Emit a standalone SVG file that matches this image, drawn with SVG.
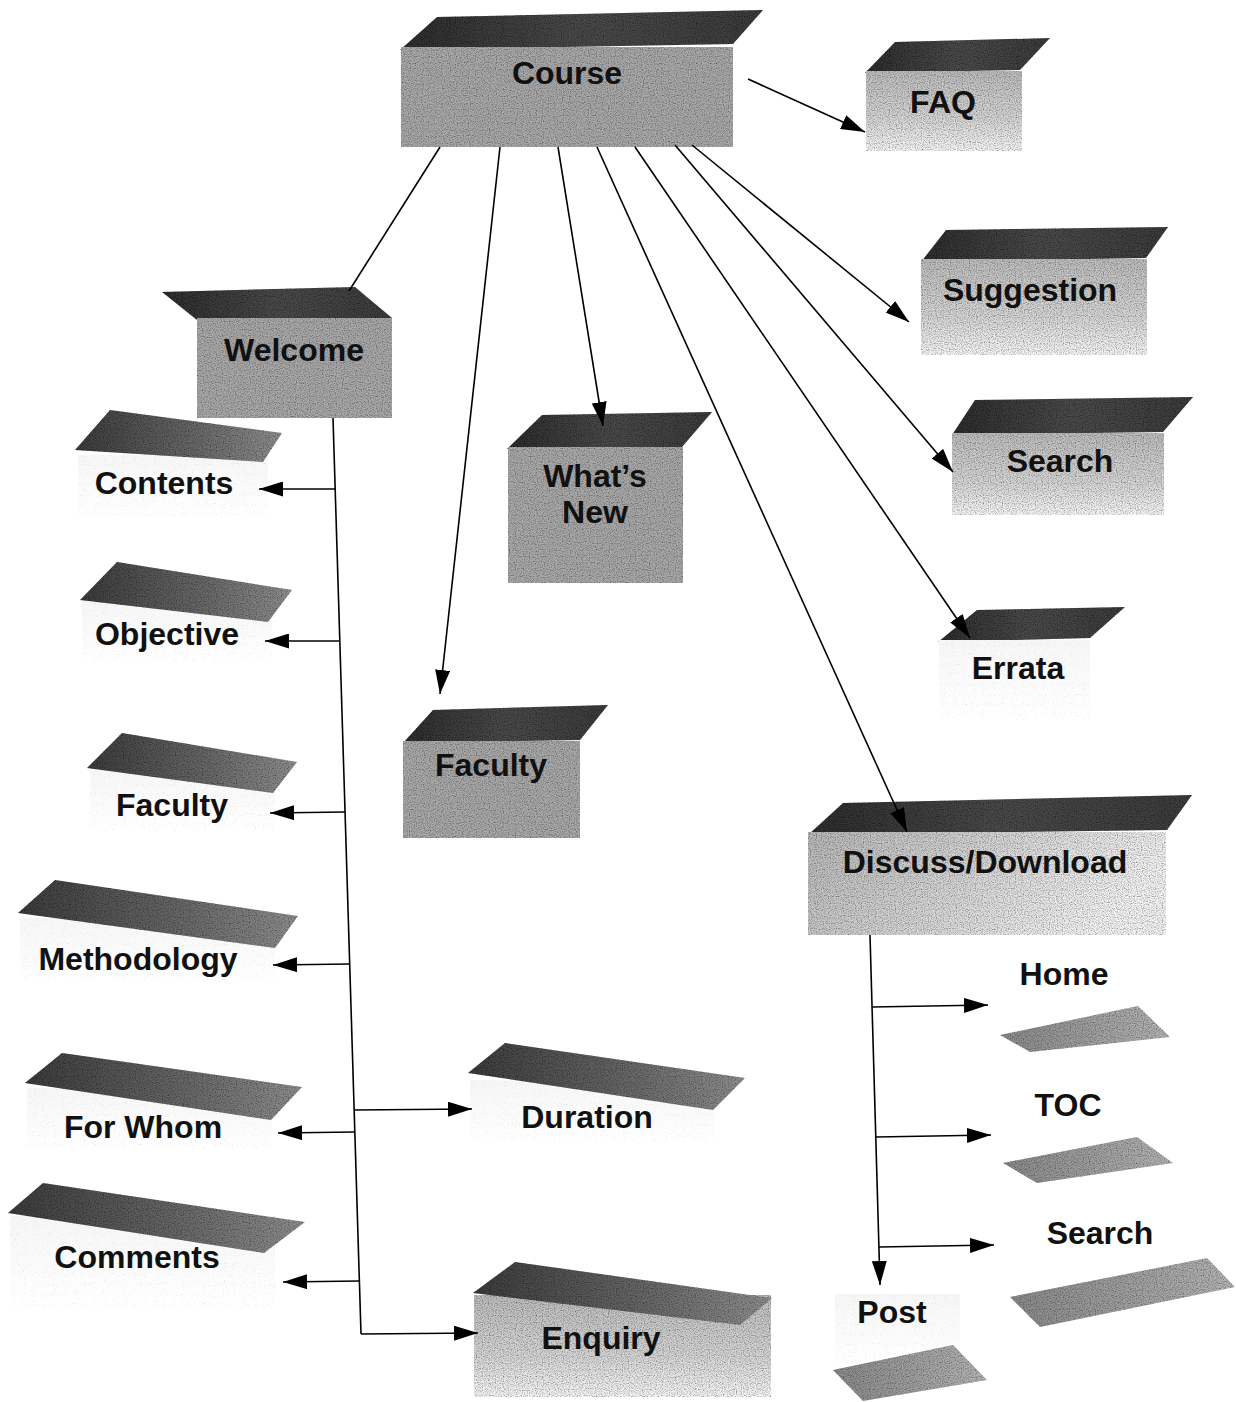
<svg xmlns="http://www.w3.org/2000/svg" width="1236" height="1402" viewBox="0 0 1236 1402">
  <defs>
    <style>
      .lbl { font-family: "Liberation Sans", Arial, Helvetica, sans-serif; font-weight: bold; font-size: 32px; text-anchor: middle; fill: #111; }
      .edge { fill: none; stroke: #000; stroke-width: 1.6; }
      .arrow { marker-end: url(#head); }
      .top { fill: url(#topDark); filter: url(#grain); }
      .front { fill: #a9a9a9; filter: url(#grain); }
      .frontFade { fill: url(#fadeDown); filter: url(#grain); }
      .frontFaint { fill: url(#faint); filter: url(#grainSoft); }
      .slab { fill: url(#slabSide); filter: url(#grain); }
      .slabLight { fill: url(#slabPale); filter: url(#grain); }
    </style>
    <linearGradient id="topDark" x1="0" y1="0" x2="1" y2="0">
      <stop offset="0" stop-color="#2e2e2e"/>
      <stop offset="0.5" stop-color="#4a4a4a"/>
      <stop offset="1" stop-color="#3c3c3c"/>
    </linearGradient>
    <linearGradient id="fadeDown" x1="0" y1="0" x2="0" y2="1">
      <stop offset="0" stop-color="#bdbdbd"/>
      <stop offset="0.6" stop-color="#d6d6d6"/>
      <stop offset="1" stop-color="#f6f6f6"/>
    </linearGradient>
    <linearGradient id="fadeRight" x1="0" y1="0" x2="1" y2="0.3">
      <stop offset="0" stop-color="#b8b8b8"/>
      <stop offset="0.55" stop-color="#d8d8d8"/>
      <stop offset="1" stop-color="#f4f4f4"/>
    </linearGradient>
    <linearGradient id="faint" x1="0" y1="0" x2="0" y2="1">
      <stop offset="0" stop-color="#f6f6f6"/>
      <stop offset="1" stop-color="#ffffff"/>
    </linearGradient>
    <linearGradient id="slabSide" x1="0" y1="0" x2="1" y2="0">
      <stop offset="0" stop-color="#3c3c3c"/>
      <stop offset="0.6" stop-color="#6a6a6a"/>
      <stop offset="1" stop-color="#8e8e8e"/>
    </linearGradient>
    <linearGradient id="slabPale" x1="0" y1="0" x2="1" y2="0">
      <stop offset="0" stop-color="#8a8a8a"/>
      <stop offset="1" stop-color="#b4b4b4"/>
    </linearGradient>
    <filter id="grain" x="-0.05" y="-0.05" width="1.1" height="1.1">
      <feTurbulence type="fractalNoise" baseFrequency="0.85" numOctaves="1" seed="11" result="noise"/>
      <feColorMatrix in="noise" type="matrix" values="0 0 0 0 0  0 0 0 0 0  0 0 0 0 0  1.8 0 0 0 -0.75" result="speck"/>
      <feComposite in="speck" in2="SourceAlpha" operator="in" result="speckIn"/>
      <feMerge>
        <feMergeNode in="SourceGraphic"/>
        <feMergeNode in="speckIn"/>
      </feMerge>
    </filter>
    <filter id="grainSoft" x="-0.05" y="-0.05" width="1.1" height="1.1">
      <feTurbulence type="fractalNoise" baseFrequency="0.9" numOctaves="1" seed="5" result="noise"/>
      <feColorMatrix in="noise" type="matrix" values="0 0 0 0 0  0 0 0 0 0  0 0 0 0 0  1.2 0 0 0 -0.75" result="speck"/>
      <feComposite in="speck" in2="SourceAlpha" operator="in" result="speckIn"/>
      <feMerge>
        <feMergeNode in="SourceGraphic"/>
        <feMergeNode in="speckIn"/>
      </feMerge>
    </filter>
    <marker id="head" viewBox="0 0 24 15" refX="24" refY="7.5" markerWidth="24" markerHeight="15" markerUnits="userSpaceOnUse" orient="auto">
      <path d="M0,0 L24,7.5 L0,15 z" fill="#000"/>
    </marker>
  </defs>

  <rect width="1236" height="1402" fill="#fff"/>

  <!-- top-level page -->
  <g id="course">
    <polygon class="top" points="437,17 763,10 733,44 400,50"/>
    <rect class="front" x="401" y="47" width="332" height="100"/>
    <text class="lbl" x="567" y="84">Course</text>
  </g>

  <!-- pages linked from the course page -->
  <g id="faq">
    <polygon class="top" points="895,42 1050,38 1020,70 865,73"/>
    <rect class="frontFade" x="866" y="71" width="156" height="80"/>
    <text class="lbl" x="943" y="113">FAQ</text>
  </g>
  <g id="suggestion">
    <polygon class="top" points="946,230 1168,227 1146,258 921,262"/>
    <rect class="frontFade" x="921" y="259" width="226" height="96"/>
    <text class="lbl" x="1030" y="301">Suggestion</text>
  </g>
  <g id="search-main">
    <polygon class="top" points="975,400 1193,397 1163,432 952,435"/>
    <rect class="frontFade" x="952" y="433" width="212" height="82"/>
    <text class="lbl" x="1060" y="472">Search</text>
  </g>
  <g id="errata">
    <polygon class="top" points="977,610 1125,607 1090,638 938,642"/>
    <rect class="frontFaint" x="939" y="640" width="151" height="80"/>
    <text class="lbl" x="1018" y="679">Errata</text>
  </g>
  <g id="welcome">
    <polygon class="top" points="162,292 355,287 392,318 197,320"/>
    <rect class="front" x="197" y="318" width="195" height="100"/>
    <text class="lbl" x="294" y="361">Welcome</text>
  </g>
  <g id="whats-new">
    <polygon class="top" points="542,415 712,412 682,447 507,449"/>
    <rect class="front" x="508" y="447" width="175" height="136"/>
    <text class="lbl" x="595" y="487">What’s</text>
    <text class="lbl" x="595" y="523">New</text>
  </g>
  <g id="faculty-main">
    <polygon class="top" points="433,710 608,705 580,740 403,743"/>
    <rect class="front" x="403" y="741" width="177" height="97"/>
    <text class="lbl" x="491" y="776">Faculty</text>
  </g>
  <g id="discuss">
    <polygon class="top" points="843,803 1192,795 1167,830 808,835"/>
    <rect x="808" y="832" width="358" height="103" fill="url(#fadeRight)" filter="url(#grain)"/>
    <text class="lbl" x="985" y="873">Discuss/Download</text>
  </g>

  <!-- pages under Welcome -->
  <g id="contents">
    <rect class="frontFaint" x="78" y="455" width="190" height="62"/>
    <polygon class="slab" points="110,410 282,433 263,462 75,450"/>
    <text class="lbl" x="164" y="494">Contents</text>
  </g>
  <g id="objective">
    <rect class="frontFaint" x="82" y="600" width="190" height="62"/>
    <polygon class="slab" points="117,562 292,590 268,622 80,600"/>
    <text class="lbl" x="167" y="645">Objective</text>
  </g>
  <g id="faculty-side">
    <rect class="frontFaint" x="90" y="770" width="185" height="62"/>
    <polygon class="slab" points="122,733 297,762 273,793 87,768"/>
    <text class="lbl" x="172" y="816">Faculty</text>
  </g>
  <g id="methodology">
    <rect class="frontFaint" x="20" y="918" width="255" height="62"/>
    <polygon class="slab" points="55,880 298,916 275,948 18,913"/>
    <text class="lbl" x="138" y="970">Methodology</text>
  </g>
  <g id="for-whom">
    <rect class="frontFaint" x="27" y="1088" width="245" height="62"/>
    <polygon class="slab" points="62,1053 302,1087 271,1120 25,1083"/>
    <text class="lbl" x="143" y="1138">For Whom</text>
  </g>
  <g id="comments">
    <rect class="frontFaint" x="10" y="1216" width="265" height="92"/>
    <polygon class="slab" points="43,1183 305,1222 264,1253 8,1213"/>
    <text class="lbl" x="137" y="1268">Comments</text>
  </g>
  <g id="duration">
    <rect class="frontFaint" x="470" y="1080" width="245" height="62"/>
    <polygon class="slab" points="505,1043 745,1078 713,1110 468,1073"/>
    <text class="lbl" x="587" y="1128">Duration</text>
  </g>
  <g id="enquiry">
    <rect class="frontFade" x="474" y="1295" width="297" height="102"/>
    <polygon class="slab" points="515,1262 772,1298 740,1325 473,1293"/>
    <text class="lbl" x="601" y="1349">Enquiry</text>
  </g>

  <!-- pages under Discuss/Download -->
  <g id="home">
    <polygon class="slabLight" points="1000,1035 1138,1006 1170,1037 1030,1052"/>
    <text class="lbl" x="1064" y="985">Home</text>
  </g>
  <g id="toc">
    <polygon class="slabLight" points="1003,1163 1137,1137 1173,1163 1037,1183"/>
    <text class="lbl" x="1068" y="1116">TOC</text>
  </g>
  <g id="search-sub">
    <polygon class="slabLight" points="1010,1297 1207,1258 1235,1287 1040,1327"/>
    <text class="lbl" x="1100" y="1244">Search</text>
  </g>
  <g id="post">
    <rect class="frontFaint" x="835" y="1294" width="125" height="70"/>
    <polygon class="slabLight" points="833,1370 953,1345 987,1380 863,1401"/>
    <text class="lbl" x="892" y="1323">Post</text>
  </g>

  <g id="connectors">
    <!-- from Course -->
    <line class="edge" x1="440" y1="147" x2="349" y2="291"/>
    <line class="edge arrow" x1="500" y1="147" x2="440" y2="694"/>
    <line class="edge arrow" x1="558" y1="147" x2="603" y2="426"/>
    <line class="edge arrow" x1="597" y1="147" x2="907" y2="832"/>
    <line class="edge arrow" x1="635" y1="147" x2="970" y2="638"/>
    <line class="edge arrow" x1="675" y1="145" x2="953" y2="472"/>
    <line class="edge arrow" x1="692" y1="145" x2="909" y2="322"/>
    <line class="edge arrow" x1="748" y1="79" x2="865" y2="132"/>
    <!-- Welcome trunk and branches -->
    <line class="edge" x1="333" y1="418" x2="361" y2="1334"/>
    <line class="edge arrow" x1="335" y1="489" x2="259" y2="489"/>
    <line class="edge arrow" x1="340" y1="641" x2="265" y2="641"/>
    <line class="edge arrow" x1="345" y1="812" x2="270" y2="813"/>
    <line class="edge arrow" x1="350" y1="964" x2="273" y2="965"/>
    <line class="edge arrow" x1="355" y1="1132" x2="278" y2="1133"/>
    <line class="edge arrow" x1="359" y1="1281" x2="283" y2="1282"/>
    <line class="edge arrow" x1="354" y1="1110" x2="472" y2="1109"/>
    <line class="edge arrow" x1="361" y1="1334" x2="478" y2="1333"/>
    <!-- Discuss/Download trunk and branches -->
    <line class="edge arrow" x1="870" y1="935" x2="880" y2="1285"/>
    <line class="edge arrow" x1="872" y1="1007" x2="988" y2="1005"/>
    <line class="edge arrow" x1="876" y1="1137" x2="991" y2="1135"/>
    <line class="edge arrow" x1="879" y1="1247" x2="994" y2="1245"/>
  </g>
</svg>
